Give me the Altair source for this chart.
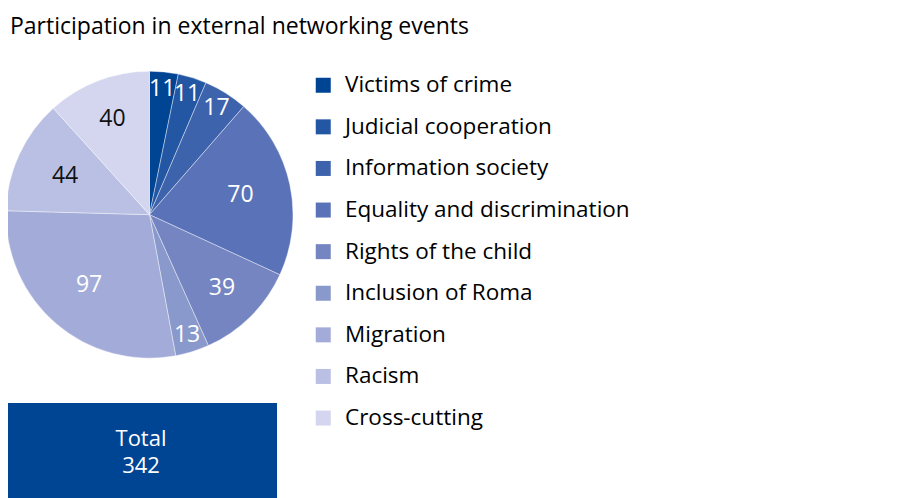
import altair as alt
import pandas as pd

title_text = "Participation in external networking events"
categories = [
    "Victims of crime",
    "Judicial cooperation",
    "Information society",
    "Equality and discrimination",
    "Rights of the child",
    "Inclusion of Roma",
    "Migration",
    "Racism",
    "Cross-cutting",
]
values = [11, 11, 17, 70, 39, 13, 97, 44, 40]
colors = ["#004494", "#2357a3", "#3e63ad", "#5a73b8", "#7585c2", "#8a99cc",
          "#a3acd8", "#b9c0e3", "#d3d6ee"]
dark_label_categories = ["Racism", "Cross-cutting"]
total_label = "Total"

FONT = "Open Sans"

df = pd.DataFrame({"category": categories, "value": values, "order": list(range(len(values)))})

CX, CY, R = 141.5, 206.7, 143.5

pie = alt.Chart(df).mark_arc(outerRadius=R, stroke="white", strokeWidth=0.4).encode(
    theta=alt.Theta("value:Q", stack=True),
    order=alt.Order("order:Q"),
    x=alt.value(CX), y=alt.value(CY),
    color=alt.Color(
        "category:N",
        scale=alt.Scale(domain=categories, range=colors),
        sort=categories,
        legend=alt.Legend(
            title=None, orient="none", legendX=304, legendY=66,
            symbolType="square", symbolSize=225, symbolStrokeWidth=0,
            labelFontSize=22.5, labelFont=FONT, labelColor="black",
            labelOffset=10.5, rowPadding=18.6, labelLimit=0, padding=0,
        ),
    ),
)

dark_expr = "indexof(" + str(dark_label_categories) + ", datum.category) >= 0"
labels = alt.Chart(df).transform_joinaggregate(
    total="sum(value)"
).transform_window(
    cum="sum(value)", sort=[alt.SortField("order")], frame=[None, 0]
).transform_calculate(
    mid="(datum.cum - datum.value / 2) / datum.total * 2 * PI",
    lr="datum.value < 20 ? 126 : (datum.value < 42 ? 103 : 93)",
).mark_text(fontSize=23, font=FONT, align="center", baseline="middle").encode(
    x=alt.value(CX), y=alt.value(CY),
    theta=alt.Theta("mid:Q", scale=None, stack=False),
    radius=alt.Radius("lr:Q", scale=None),
    text=alt.Text("value:Q"),
    color=alt.condition(dark_expr, alt.value("#111111"), alt.value("white")),
)

title = alt.Chart(pd.DataFrame({"t": [title_text]})).mark_text(
    align="left", baseline="alphabetic", fontSize=23, font=FONT, color="black"
).encode(x=alt.value(2), y=alt.value(25.5), text="t:N")

box = alt.Chart(pd.DataFrame({"a": [0]})).mark_rect(color="#004494").encode(
    x=alt.value(0), x2=alt.value(269), y=alt.value(395), y2=alt.value(500)
)

total_text = alt.Chart(df).transform_aggregate(total="sum(value)").transform_calculate(
    label="'" + total_label + "\\n' + datum.total"
).mark_text(
    align="center", baseline="middle", fontSize=22, font=FONT, color="white",
    lineBreak="\n", lineHeight=27,
).encode(x=alt.value(133), y=alt.value(431), text="label:N")

chart = alt.layer(pie, labels, title, box, total_text).properties(
    width=903, height=490,
    autosize=alt.AutoSizeParams(type="none"),
    padding=0,
).configure_view(stroke=None)

chart.save("out.html", embed_options={"renderer": "svg", "actions": False})
